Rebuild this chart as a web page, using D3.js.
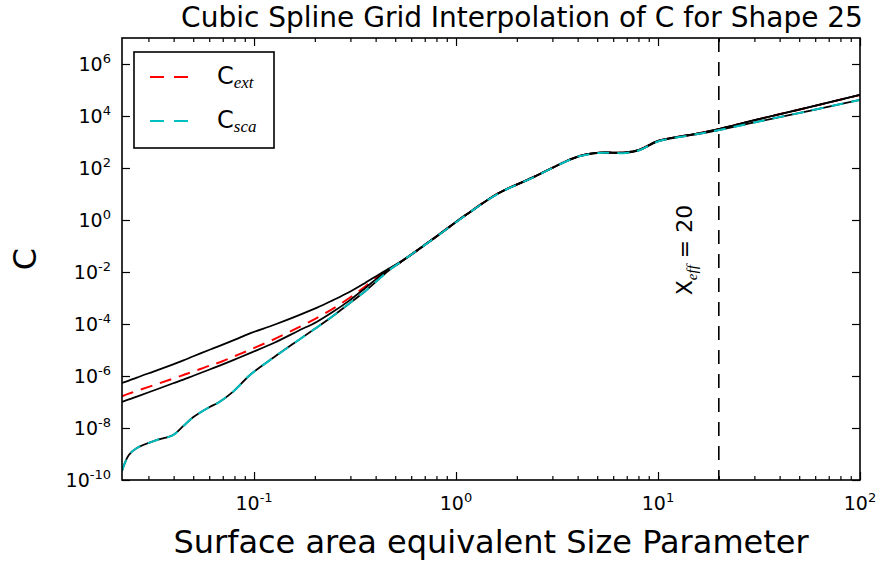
<!DOCTYPE html>
<html lang="en">
<head>
<meta charset="UTF-8">
<title>Cubic Spline Grid Interpolation of C</title>
<script src="https://d3js.org/d3.v7.min.js"></script>
<style>
    body { margin: 0; background: #fff; }
    text { font-family: "DejaVu Sans", sans-serif; fill: #000; }
</style>
</head>
<body>
<script>
    // size parameter samples
    var sizeParam = [0.0222, 0.0240, 0.0263, 0.0331, 0.0398, 0.0447, 0.0501, 0.0603, 0.0661, 0.0794,
                     0.0955, 0.126, 0.166, 0.204, 0.245, 0.295, 0.355, 0.427, 0.468, 0.525,
                     0.759, 1.12, 1.62, 2.40, 3.55, 4.07, 5.13, 6.92, 8.13, 10.0,
                     14.8, 19.5, 31.6, 56.2, 100];
    // log10 of C
    var logSca = [-9.65, -9.04, -8.77, -8.46, -8.27, -7.92, -7.58, -7.19, -7.04, -6.58,
                  -5.96, -5.27, -4.62, -4.14, -3.70, -3.22, -2.74, -2.19, -1.92, -1.65,
                  -0.77, 0.19, 1.02, 1.63, 2.27, 2.45, 2.58, 2.58, 2.69, 3.02,
                  3.27, 3.44, 3.79, 4.20, 4.62];
    var logExtHi = [-6.27, -6.18, -6.06, -5.78, -5.55, -5.40, -5.24, -4.99, -4.87, -4.62,
                    -4.36, -4.03, -3.67, -3.38, -3.09, -2.78, -2.42, -2.04, -1.86, -1.63,
                    -0.76, 0.20, 1.03, 1.64, 2.28, 2.46, 2.59, 2.60, 2.71, 3.04,
                    3.29, 3.48, 3.88, 4.34, 4.81];
    var logExtLo = [-7.00, -6.90, -6.79, -6.51, -6.28, -6.14, -5.99, -5.75, -5.63, -5.38,
                    -5.12, -4.72, -4.26, -3.92, -3.54, -3.11, -2.62, -2.11, -1.88, -1.65,
                    -0.76, 0.20, 1.03, 1.64, 2.28, 2.46, 2.59, 2.60, 2.71, 3.04,
                    3.29, 3.48, 3.88, 4.34, 4.81];
    var logExt = [-6.78, -6.68, -6.57, -6.31, -6.10, -5.96, -5.83, -5.60, -5.50, -5.25,
                  -4.99, -4.58, -4.13, -3.77, -3.42, -3.01, -2.56, -2.07, -1.87, -1.65,
                  -0.76, 0.20, 1.03, 1.64, 2.28, 2.46, 2.59, 2.60, 2.71, 3.04,
                  3.29, 3.48, 3.88, 4.34, 4.81];

    var xTicks = [0.1, 1, 10, 100];
    var xTickExp = ["-1", "0", "1", "2"];
    var yTicks = [1e6, 1e4, 1e2, 1e0, 1e-2, 1e-4, 1e-6, 1e-8, 1e-10];
    var yTickExp = ["6", "4", "2", "0", "-2", "-4", "-6", "-8", "-10"];
    var xEff = 20;

    var W = 882, H = 565;
    var pL = 122, pR = 860, pT = 38, pB = 480;

    var svg = d3.select("body").append("svg")
        .attr("width", W)
        .attr("height", H);

    var x = d3.scaleLog().domain([0.0222, 100]).range([pL, pR]);
    var y = d3.scaleLog().domain([1e-10, 1e7]).range([pB, pT]);

    svg.append("clipPath").attr("id", "plot")
        .append("rect")
        .attr("x", pL).attr("y", pT)
        .attr("width", pR - pL).attr("height", pB - pT);

    function pts(logs) {
        return sizeParam.map(function(v, i) { return [v, Math.pow(10, logs[i])]; });
    }
    var line = d3.line()
        .x(function(d) { return x(d[0]); })
        .y(function(d) { return y(d[1]); })
        .curve(d3.curveCatmullRom.alpha(0.5));

    var g = svg.append("g").attr("clip-path", "url(#plot)");

    // red dashed first, black bounds over it, cyan dashed on top
    g.append("path").attr("d", line(pts(logExt)))
        .style("fill", "none").style("stroke", "#ff0000")
        .style("stroke-width", 2).style("stroke-dasharray", "12,8");
    [logExtHi, logExtLo, logSca].forEach(function(s) {
        g.append("path").attr("d", line(pts(s)))
            .style("fill", "none").style("stroke", "#000")
            .style("stroke-width", 1.8);
    });
    g.append("path").attr("d", line(pts(logSca)))
        .style("fill", "none").style("stroke", "#00bfbf")
        .style("stroke-width", 2).style("stroke-dasharray", "12,8");

    // x_eff marker
    svg.append("line")
        .attr("x1", x(xEff)).attr("x2", x(xEff))
        .attr("y1", pT).attr("y2", pB)
        .style("stroke", "#000").style("stroke-width", 1.6)
        .style("stroke-dasharray", "14,10");

    var xl = svg.append("text")
        .attr("transform", "translate(" + (x(xEff) - 27) + "," + 250 + ") rotate(-90)")
        .attr("text-anchor", "middle")
        .style("font-size", "22px");
    xl.append("tspan").text("X");
    xl.append("tspan").text("eff").attr("dy", 5)
        .style("font-family", "'Liberation Serif', serif").style("font-style", "italic")
        .style("font-size", "15px");
    xl.append("tspan").text(" = 20").attr("dy", -5);

    // ticks (inside, all four sides)
    var minors = [];
    [-2, -1, 0, 1].forEach(function(e) {
        for (var m = 2; m <= 9; m++) {
            var v = m * Math.pow(10, e);
            if (v >= 0.0222 && v <= 100) minors.push(v);
        }
    });
    svg.append("g").attr("transform", "translate(0," + pB + ")")
        .call(d3.axisBottom(x).tickValues(xTicks).tickSize(-8).tickFormat(""));
    svg.append("g").attr("transform", "translate(0," + pB + ")")
        .call(d3.axisBottom(x).tickValues(minors).tickSize(-4).tickFormat(""));
    svg.append("g").attr("transform", "translate(0," + pT + ")")
        .call(d3.axisTop(x).tickValues(xTicks).tickSize(-8).tickFormat(""));
    svg.append("g").attr("transform", "translate(0," + pT + ")")
        .call(d3.axisTop(x).tickValues(minors).tickSize(-4).tickFormat(""));
    svg.append("g").attr("transform", "translate(" + pL + ",0)")
        .call(d3.axisLeft(y).tickValues(yTicks).tickSize(-8).tickFormat(""));
    svg.append("g").attr("transform", "translate(" + pR + ",0)")
        .call(d3.axisRight(y).tickValues(yTicks).tickSize(-8).tickFormat(""));
    svg.selectAll(".domain").remove();
    svg.selectAll(".tick line").style("stroke", "#000").style("stroke-width", 1.2);

    // frame
    svg.append("rect")
        .attr("x", pL).attr("y", pT)
        .attr("width", pR - pL).attr("height", pB - pT)
        .style("fill", "none").style("stroke", "#000").style("stroke-width", 1.6);

    // tick labels
    xTicks.forEach(function(v, i) {
        var t = svg.append("text")
            .attr("x", x(v)).attr("y", pB + 30)
            .attr("text-anchor", "middle")
            .style("font-size", "19px");
        t.append("tspan").text("10");
        t.append("tspan").text(xTickExp[i]).attr("dy", -8).style("font-size", "13px");
    });
    yTicks.forEach(function(v, i) {
        var t = svg.append("text")
            .attr("x", pL - 11).attr("y", y(v) + 7)
            .attr("text-anchor", "end")
            .style("font-size", "19px");
        t.append("tspan").text("10");
        t.append("tspan").text(yTickExp[i]).attr("dy", -8).style("font-size", "13px");
    });

    // titles
    svg.append("text")
        .attr("x", 522).attr("y", 27)
        .attr("text-anchor", "middle")
        .style("font-size", "28px")
        .text("Cubic Spline Grid Interpolation of C for Shape 25");
    svg.append("text")
        .attr("x", (pL + pR) / 2).attr("y", 553)
        .attr("text-anchor", "middle")
        .style("font-size", "32px")
        .text("Surface area equivalent Size Parameter");
    svg.append("text")
        .attr("transform", "translate(36," + (pT + pB) / 2 + ") rotate(-90)")
        .attr("text-anchor", "middle")
        .style("font-size", "32px")
        .text("C");

    // legend
    var leg = [["ext", "#ff0000"], ["sca", "#00bfbf"]];
    svg.append("rect")
        .attr("x", 134).attr("y", 52).attr("width", 140).attr("height", 96)
        .style("fill", "#fff").style("stroke", "#000").style("stroke-width", 1.6);
    leg.forEach(function(d, i) {
        var ly = 77 + i * 44;
        svg.append("line")
            .attr("x1", 150).attr("x2", 190).attr("y1", ly).attr("y2", ly)
            .style("stroke", d[1]).style("stroke-width", 2)
            .style("stroke-dasharray", "14,10");
        var t = svg.append("text")
            .attr("x", 217).attr("y", ly + 7)
            .style("font-size", "24px");
        t.append("tspan").text("C");
        t.append("tspan").text(d[0]).attr("dy", 4)
            .style("font-family", "'Liberation Serif', serif").style("font-style", "italic")
            .style("font-size", "17px");
    });
</script>
</body>
</html>
